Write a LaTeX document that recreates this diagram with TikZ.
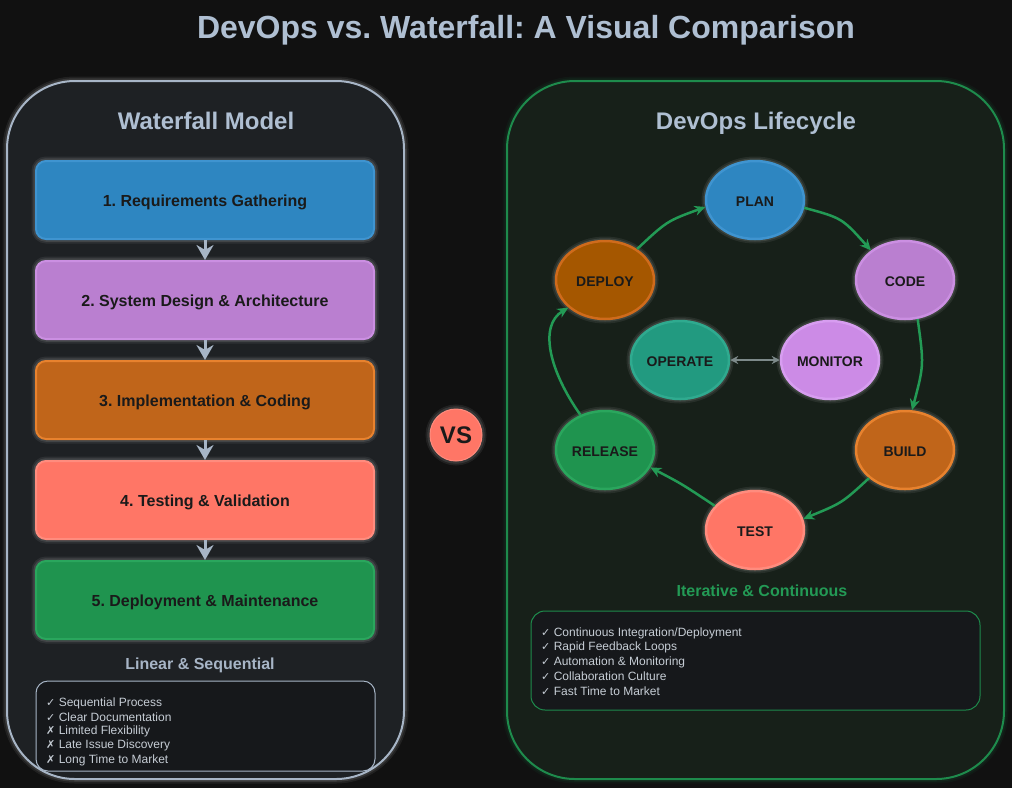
\documentclass[tikz,border=0pt]{standalone}
\usepackage{fontspec}
\setmainfont{Liberation Sans}
\newfontfamily\symfont{DejaVu Sans}
\usetikzlibrary{arrows.meta, shapes.geometric}
\frenchspacing

\definecolor{pagebg}{HTML}{111111}
\definecolor{titlegray}{HTML}{AFBFD2}
\definecolor{wfedge}{HTML}{A7B5C6}
\definecolor{wfbg}{HTML}{1E2124}
\definecolor{dobg}{HTML}{172019}
\definecolor{doedge}{HTML}{1E8B4C}
\definecolor{notebg}{HTML}{16181B}
\definecolor{notetext}{HTML}{C6CDD5}
\definecolor{inktext}{HTML}{1A1A1A}
\definecolor{blue1}{HTML}{2E86C1}
\definecolor{blue2}{HTML}{3F94D0}
\definecolor{purple1}{HTML}{BA7FD0}
\definecolor{purple2}{HTML}{CB8FE2}
\definecolor{lilac1}{HTML}{CC8BE6}
\definecolor{lilac2}{HTML}{D79DF0}
\definecolor{orange1}{HTML}{C0651A}
\definecolor{orange2}{HTML}{E8822E}
\definecolor{brown1}{HTML}{A55700}
\definecolor{brown2}{HTML}{CF6B1C}
\definecolor{salmon1}{HTML}{FF7666}
\definecolor{salmon2}{HTML}{FF8C7E}
\definecolor{green1}{HTML}{1F944F}
\definecolor{green2}{HTML}{2AA65D}
\definecolor{teal1}{HTML}{229A80}
\definecolor{teal2}{HTML}{2FAA8F}
\definecolor{flowgreen}{HTML}{239A55}
\definecolor{linkgray}{HTML}{7D8A8A}

\begin{document}
\begin{tikzpicture}[x=1pt, y=-1pt, >=Stealth]
    \tikzset{
        glow/.style={preaction={draw=#1, draw opacity=0.07, line width=9pt},
                     preaction={draw=#1, draw opacity=0.10, line width=5.5pt}},
        glow/.default=white,
        panel/.style={rounded corners=68pt, line width=2pt, minimum height=698pt, inner sep=0pt},
        heading/.style={font=\bfseries\fontsize{24}{28}\selectfont, text=titlegray, text depth=0pt},
        stage/.style={draw, glow, rounded corners=10pt, line width=2pt, minimum width=338pt, minimum height=78pt,
            font=\bfseries\fontsize{16}{19}\selectfont, text=inktext, text height=13pt, text depth=0pt},
        phase/.style={draw, glow, ellipse, line width=2.5pt, minimum width=98pt, minimum height=78pt, inner sep=0pt,
            font=\bfseries\fontsize{14}{17}\selectfont, text=inktext, text height=12pt, text depth=0pt},
        drop/.style={-{Stealth[length=15pt, width=17pt]}, line width=3pt, wfedge},
        flow/.style={-{Stealth[length=11pt, width=10pt]}, line width=2.5pt, flowgreen},
        caption/.style={font=\bfseries\fontsize{16}{19}\selectfont, text depth=0pt},
        noteline/.style={anchor=west, inner sep=0pt, text=notetext, font=\fontsize{12}{14}\selectfont}
    };
    \fill[pagebg] (0,0) rectangle (1012,788);
    \useasboundingbox (0,0) rectangle (1012,788);

    \node[font=\bfseries\fontsize{32}{38}\selectfont, text=titlegray, text depth=0pt] (title) at (526,27) {DevOps vs. Waterfall: A Visual Comparison};

    % waterfall side
    \node[panel, glow, draw=wfedge, fill=wfbg, minimum width=397pt] (wfpanel) at (205.5,430) {};
    \node[heading] (wfhead) at (206,121) {Waterfall Model};
    \node[stage, fill=blue1, draw=blue2] (req) at (205,200) {1. Requirements Gathering};
    \node[stage, fill=purple1, draw=purple2] (design) at (205,300) {2. System Design \& Architecture};
    \node[stage, fill=orange1, draw=orange2] (impl) at (205,400) {3. Implementation \& Coding};
    \node[stage, fill=salmon1, draw=salmon2] (testing) at (205,500) {4. Testing \& Validation};
    \node[stage, fill=green1, draw=green2] (deployment) at (205,600) {5. Deployment \& Maintenance};
    \draw[drop] (req) -- (design);
    \draw[drop] (design) -- (impl);
    \draw[drop] (impl) -- (testing);
    \draw[drop] (testing) -- (deployment);
    \node[caption, text=wfedge] (wfcap) at (200,664) {Linear \& Sequential};
    \node[draw=wfedge, fill=notebg, line width=1pt, rounded corners=12pt, minimum width=339pt, minimum height=90pt] (wfnote) at (205.5,726) {};
    \foreach \mk/\txt [count=\i] in {✓/Sequential Process, ✓/Clear Documentation, ✗/Limited Flexibility,
                                     ✗/Late Issue Discovery, ✗/Long Time to Market}
        \node[noteline] (wfline\i) at (46,{703+14.25*(\i-1)}) {{\symfont\fontsize{11}{14}\selectfont\mk} \txt};

    % versus badge
    \node[circle, glow, fill=salmon1, draw=salmon2, line width=1pt, minimum size=52pt, inner sep=0pt,
          font=\bfseries\fontsize{24}{28}\selectfont, text=inktext] (vs) at (456,435) {VS};

    % devops side
    \node[panel, glow=doedge, draw=doedge, fill=dobg, minimum width=497pt] (dopanel) at (755.5,430) {};
    \node[heading] (dohead) at (756,121) {DevOps Lifecycle};
    \node[phase, fill=blue1, draw=blue2] (plan) at (755,200) {PLAN};
    \node[phase, fill=purple1, draw=purple2] (code) at (905,280) {CODE};
    \node[phase, fill=orange1, draw=orange2] (build) at (905,450) {BUILD};
    \node[phase, fill=salmon1, draw=salmon2] (test) at (755,530) {TEST};
    \node[phase, fill=green1, draw=green2] (release) at (605,450) {RELEASE};
    \node[phase, fill=brown1, draw=brown2] (deploy) at (605,280) {DEPLOY};
    \node[phase, fill=teal1, draw=teal2] (operate) at (680,360) {OPERATE};
    \node[phase, fill=lilac1, draw=lilac2] (monitor) at (830,360) {MONITOR};
    \draw[flow] (deploy.44) .. controls (667,221) .. (plan.188);
    \draw[flow] (plan.351) .. controls (842,218) .. (code.139);
    \draw[flow] (code.288) .. controls (924,365) .. (build.80);
    \draw[flow] (build.218) .. controls (842,503) .. (test.13);
    \draw[flow] (test.149) .. controls (682,484) .. (release.339);
    \draw[flow] (release.125) .. controls (550,372) and (538,326) .. (deploy.217);
    \draw[{Stealth[length=8pt, width=8pt]}-{Stealth[length=8pt, width=8pt]}, line width=2pt, linkgray] (operate) -- (monitor);
    \node[caption, text=flowgreen] (docap) at (762,591) {Iterative \& Continuous};
    \node[draw=doedge, fill=notebg, line width=1pt, rounded corners=14pt, minimum width=449pt, minimum height=99pt] (donote) at (755.5,660.5) {};
    \foreach \txt [count=\i] in {Continuous Integration/Deployment, Rapid Feedback Loops, Automation \& Monitoring,
                                 Collaboration Culture, Fast Time to Market}
        \node[noteline] (doline\i) at (541,{633+14.5*(\i-1)}) {{\symfont\fontsize{11}{14}\selectfont ✓} \txt};
\end{tikzpicture}
\end{document}
